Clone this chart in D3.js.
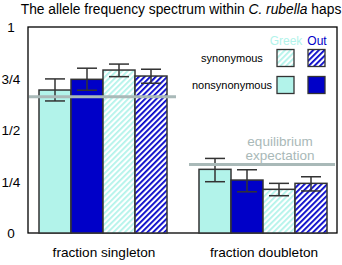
<!DOCTYPE html>
<html>
<head>
<meta charset="utf-8">
<script src="https://cdn.jsdelivr.net/npm/d3@7"></script>
<style>
	body { margin: 0; background: #fff; }
	text { font-family: "Liberation Sans", Arial, sans-serif; }
</style>
</head>
<body>
<svg id="chart" width="342" height="265"></svg>
<script>
// categories and series
var groups = ['fraction singleton', 'fraction doubleton'];
var series = ['greekNon', 'outNon', 'greekSyn', 'outSyn'];

// bar heights, per group, in series order
var singletonValues = [0.694, 0.746, 0.791, 0.762];
var doubletonValues = [0.309, 0.257, 0.212, 0.241];
// error bar low / high
var singletonLow = [0.641, 0.693, 0.759, 0.727];
var singletonHigh = [0.748, 0.800, 0.820, 0.795];
var doubletonLow = [0.249, 0.200, 0.181, 0.204];
var doubletonHigh = [0.362, 0.307, 0.241, 0.273];

// equilibrium expectation per group
var expectation = [0.662, 0.332];

var yTicks = [0, 0.25, 0.5, 0.75, 1];
var yTickLabels = ['0', '1/4', '1/2', '3/4', '1'];

var values = [singletonValues, doubletonValues];
var lows = [singletonLow, doubletonLow];
var highs = [singletonHigh, doubletonHigh];

var cyan = '#b2f3ea';
var blue = '#0000c8';
var outline = '#333';
var grey = '#a9b9b8';

var svg = d3.select('#chart');

var plotLeft = 28, plotRight = 337, plotTop = 27, plotBottom = 233;

var y = d3.scaleLinear().domain([0, 1]).range([plotBottom, plotTop]);
var x0 = d3.scaleBand().domain(groups).range([39, 327]).paddingInner(0.2);
var x1 = d3.scaleBand().domain(series).range([0, x0.bandwidth()]);

// hatch patterns
var defs = svg.append('defs');
function makeHatch(id, color) {
	var p = defs.append('pattern')
		.attr('id', id)
		.attr('patternUnits', 'userSpaceOnUse')
		.attr('width', 4)
		.attr('height', 4)
		.attr('patternTransform', 'rotate(45)');
	p.append('rect').attr('width', 4).attr('height', 4).attr('fill', '#fff');
	p.append('rect').attr('x', 0).attr('width', 1.8).attr('height', 4).attr('fill', color);
}
makeHatch('hatchGreek', cyan);
makeHatch('hatchOut', blue);

var fills = {
	greekNon: cyan,
	outNon: blue,
	greekSyn: 'url(#hatchGreek)',
	outSyn: 'url(#hatchOut)'
};

// title
var title = svg.append('text')
	.attr('x', 181)
	.attr('y', 14)
	.attr('text-anchor', 'middle')
	.attr('font-size', 13.8);
title.append('tspan').text('The allele frequency spectrum within ');
title.append('tspan').attr('font-style', 'italic').text('C. rubella');
title.append('tspan').text(' haps');

// frame
svg.append('rect')
	.attr('x', plotLeft)
	.attr('y', plotTop)
	.attr('width', plotRight - plotLeft)
	.attr('height', plotBottom - plotTop)
	.attr('fill', 'none')
	.attr('stroke', '#000')
	.attr('stroke-width', 1.3);

// y tick labels
svg.selectAll('.ytick')
	.data(yTicks)
	.enter()
	.append('text')
	.attr('class', 'ytick')
	.attr('x', 11)
	.attr('y', function (d) { return y(d) + 5; })
	.attr('text-anchor', 'middle')
	.attr('font-size', 13.5)
	.text(function (d, i) { return yTickLabels[i]; });

// bars
var g = svg.selectAll('.group')
	.data(groups)
	.enter()
	.append('g')
	.attr('class', 'group')
	.attr('transform', function (d) { return 'translate(' + x0(d) + ',0)'; });

g.selectAll('rect')
	.data(function (d, gi) {
		return series.map(function (s, si) {
			return { s: s, v: values[gi][si] };
		});
	})
	.enter()
	.append('rect')
	.attr('x', function (d) { return x1(d.s); })
	.attr('y', function (d) { return y(d.v); })
	.attr('width', x1.bandwidth())
	.attr('height', function (d) { return y(0) - y(d.v); })
	.attr('fill', function (d) { return fills[d.s]; })
	.attr('stroke', outline)
	.attr('stroke-width', 1.5);

// expectation lines
svg.selectAll('.expect')
	.data(expectation)
	.enter()
	.append('line')
	.attr('class', 'expect')
	.attr('x1', function (d, i) { return i === 0 ? 29 : 189; })
	.attr('x2', function (d, i) { return i === 0 ? 176 : 335; })
	.attr('y1', function (d) { return y(d); })
	.attr('y2', function (d) { return y(d); })
	.attr('stroke', grey)
	.attr('stroke-width', 3);

// error bars
g.each(function (gd, gi) {
	var grp = d3.select(this);
	var errs = series.map(function (s, si) {
		return { s: s, lo: lows[gi][si], hi: highs[gi][si] };
	});
	var eb = grp.selectAll('.err')
		.data(errs)
		.enter()
		.append('g')
		.attr('class', 'err')
		.attr('stroke', outline)
		.attr('stroke-width', 1.5);
	eb.append('line')
		.attr('x1', function (d) { return x1(d.s) + x1.bandwidth() / 2; })
		.attr('x2', function (d) { return x1(d.s) + x1.bandwidth() / 2; })
		.attr('y1', function (d) { return y(d.lo); })
		.attr('y2', function (d) { return y(d.hi); });
	['lo', 'hi'].forEach(function (k) {
		eb.append('line')
			.attr('x1', function (d) { return x1(d.s) + x1.bandwidth() / 2 - 10; })
			.attr('x2', function (d) { return x1(d.s) + x1.bandwidth() / 2 + 10; })
			.attr('y1', function (d) { return y(d[k]); })
			.attr('y2', function (d) { return y(d[k]); });
	});
});

// group labels
svg.selectAll('.xlabel')
	.data(groups)
	.enter()
	.append('text')
	.attr('class', 'xlabel')
	.attr('x', function (d) { return x0(d) + x0.bandwidth() / 2 + 1; })
	.attr('y', 257)
	.attr('text-anchor', 'middle')
	.attr('font-size', 13.6)
	.text(function (d) { return d; });

// equilibrium expectation label
svg.append('text')
	.attr('x', 280).attr('y', 146)
	.attr('text-anchor', 'middle')
	.attr('font-size', 13.5)
	.attr('fill', grey)
	.text('equilibrium');
svg.append('text')
	.attr('x', 280).attr('y', 160)
	.attr('text-anchor', 'middle')
	.attr('font-size', 13.5)
	.attr('fill', grey)
	.text('expectation');

// legend
var legendCols = [{ name: 'Greek', color: cyan, x: 286 }, { name: 'Out', color: blue, x: 317 }];
var legendRows = [
	{ name: 'synonymous', y: 58, fills: ['url(#hatchGreek)', 'url(#hatchOut)'] },
	{ name: 'nonsynonymous', y: 85, fills: [cyan, blue] }
];

svg.selectAll('.legcol')
	.data(legendCols)
	.enter()
	.append('text')
	.attr('class', 'legcol')
	.attr('x', function (d) { return d.x; })
	.attr('y', 45)
	.attr('text-anchor', 'middle')
	.attr('font-size', 12)
	.attr('fill', function (d) { return d.color; })
	.text(function (d) { return d.name; });

legendRows.forEach(function (row) {
	svg.append('text')
		.attr('x', 232)
		.attr('y', row.y + 4)
		.attr('text-anchor', 'middle')
		.attr('font-size', 11)
		.text(row.name);
	legendCols.forEach(function (col, ci) {
		svg.append('rect')
			.attr('x', col.x - 9)
			.attr('y', row.y - 8.5)
			.attr('width', 17)
			.attr('height', 17)
			.attr('fill', row.fills[ci])
			.attr('stroke', outline)
			.attr('stroke-width', 1.3);
	});
});
</script>
</body>
</html>
